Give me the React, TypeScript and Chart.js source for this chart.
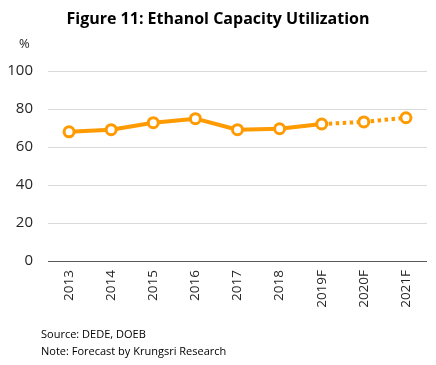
import React, { useEffect, useRef } from "react";
import { Chart, registerables } from "chart.js";

Chart.register(...registerables);

const categories = ["2013", "2014", "2015", "2016", "2017", "2018", "2019F", "2020F", "2021F"];
const utilization = [68, 69.1, 72.8, 74.9, 69.1, 69.6, 72.1, 73.2, 75.4];
const yTicks = [0, 20, 40, 60, 80, 100];
const forecastStart = 6;

const FONT = "'Open Sans', 'Noto Sans', sans-serif";
const ORANGE = "#FF9A00";

export default function App() {
  const ref = useRef<HTMLCanvasElement | null>(null);
  useEffect(() => {
    if (!ref.current) return;
    const chart = new Chart(ref.current, {
      type: "line",
      data: {
        labels: categories,
        datasets: [
          {
            data: utilization,
            borderColor: ORANGE,
            borderWidth: 4,
            borderJoinStyle: "round",
            pointRadius: 5,
            pointHoverRadius: 5,
            pointBorderWidth: 3,
            pointBorderColor: ORANGE,
            pointBackgroundColor: "#ffffff",
            tension: 0,
            segment: {
              borderDash: (ctx: any) => (ctx.p0DataIndex >= forecastStart ? [3.5, 3.5] : undefined),
            },
          },
        ],
      },
      options: {
        animation: false,
        responsive: false,
        maintainAspectRatio: false,
        layout: { padding: { top: 71, right: 9, bottom: 44, left: 0 } },
        plugins: { legend: { display: false }, tooltip: { enabled: false }, title: { display: false } },
        scales: {
          x: {
            offset: true,
            grid: { display: false, drawTicks: false },
            border: { display: false },
            ticks: {
              minRotation: 90,
              maxRotation: 90,
              padding: 9,
              color: "#262626",
              font: { family: FONT, size: 13.5 },
            },
            afterFit: (s: any) => {
              s.height = 60;
            },
          },
          y: {
            min: 0,
            max: 100,
            afterBuildTicks: (s: any) => {
              s.ticks = yTicks.map((v) => ({ value: v }));
            },
            grid: {
              drawTicks: false,
              color: (ctx: any) => (ctx.tick && ctx.tick.value === 0 ? "#595959" : "#D9D9D9"),
              lineWidth: 1,
            },
            border: { display: false },
            ticks: {
              padding: 15,
              color: "#262626",
              font: { family: FONT, size: 15 },
            },
            afterFit: (s: any) => {
              s.width = 48;
            },
          },
        },
      },
    });
    return () => chart.destroy();
  }, []);

  return (
    <div style={{ position: "absolute", left: 0, top: 0, width: 436, height: 365, background: "#fff", fontFamily: FONT }}>
      <canvas ref={ref} width={436} height={365} style={{ position: "absolute", left: 0, top: 0 }} />
      <div
        style={{
          position: "absolute",
          left: 0,
          width: 436,
          top: 6,
          textAlign: "center",
          fontWeight: 700,
          fontSize: 16,
          color: "#000",
          lineHeight: "24px",
        }}
      >
        Figure 11: Ethanol Capacity Utilization
      </div>
      <div style={{ position: "absolute", left: 19, top: 34, fontSize: 13, color: "#262626", lineHeight: "18px" }}>%</div>
      <div style={{ position: "absolute", left: 41, top: 325, fontSize: 11, color: "#000", lineHeight: "17px" }}>
        <div>Source: DEDE, DOEB</div>
        <div>Note: Forecast by Krungsri Research</div>
      </div>
    </div>
  );
}
